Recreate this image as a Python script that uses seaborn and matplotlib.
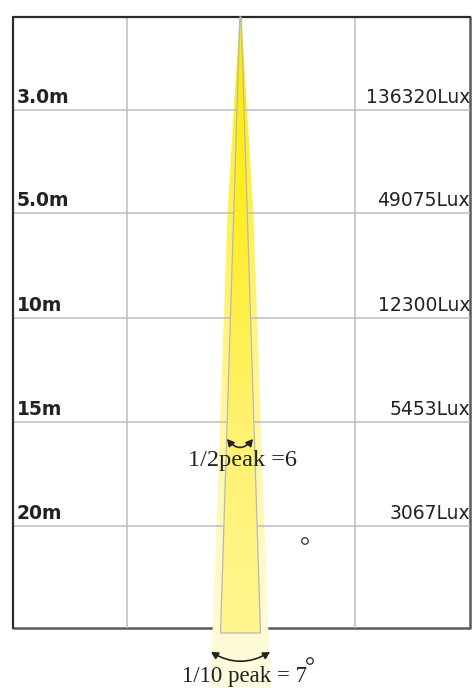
import numpy as np
import matplotlib.pyplot as plt
import seaborn as sns
from matplotlib.patches import Polygon, FancyArrowPatch
from matplotlib.colors import LinearSegmentedColormap

# data
distances = ["3.0m", "5.0m", "10m", "15m", "20m"]
lux = [136320, 49075, 12300, 5453, 3067]
half_peak = 6
tenth_peak = 7

# layout in pixel units (axes span the whole figure)
W, H = 476, 688
frame_l, frame_r, frame_t, frame_b = 13, 470, 17, 628
col_lines = [127, 240, 355]
row_lines = [110, 213, 318, 422, 526]
apex_x = 240.5

sns.set_theme(style="white")

fig = plt.figure(figsize=(W / 100, H / 100), dpi=100)
ax = fig.add_axes([0, 0, 1, 1])
ax.set_xlim(0, W)
ax.set_ylim(H, 0)
ax.axis("off")

grid_kw = dict(color="#bdbdbd", lw=1.1, zorder=3, solid_capstyle="butt")
for x in col_lines:
    ax.plot([x, x], [frame_t, frame_b], **grid_kw)
for y in row_lines:
    ax.plot([frame_l, frame_r], [y, y], **grid_kw)

# frame
ax.plot([frame_l, frame_l, frame_r], [frame_b, frame_t, frame_t], color="#2b2b2b", lw=1.6, zorder=4)
ax.plot([frame_l, frame_r, frame_r], [frame_b, frame_b, frame_t], color="#5a5a5a", lw=1.8, zorder=1)


def gradient_cone(verts, colors, z, edge=None):
    poly = Polygon(verts, closed=True, facecolor="none",
                   edgecolor=edge if edge else "none", lw=0.9, zorder=z + 0.1)
    ax.add_patch(poly)
    xs = [v[0] for v in verts]
    ys = [v[1] for v in verts]
    cmap = LinearSegmentedColormap.from_list("beam", colors)
    grad = np.linspace(0, 1, 256).reshape(-1, 1)
    im = ax.imshow(grad, cmap=cmap, aspect="auto",
                   extent=[min(xs), max(xs), max(ys), min(ys)], zorder=z)
    clip = Polygon(verts, closed=True, transform=ax.transData)
    im.set_clip_path(clip)
    ax.set_xlim(0, W)
    ax.set_ylim(H, 0)


# outer (1/10 peak) beam
outer = [(apex_x - 1, frame_t), (apex_x + 1, frame_t),
         (apex_x + 13, 215), (apex_x + 24, 525), (apex_x + 30, H),
         (apex_x - 30, H), (apex_x - 24, 525), (apex_x - 13, 215)]
gradient_cone(outer, ["#ffee00", "#fff25e", "#fff8b0", "#fffbe0"], 2)

# inner (1/2 peak) beam
inner = [(apex_x - 0.6, frame_t), (apex_x + 0.6, frame_t),
         (apex_x + 20, 633), (apex_x - 20, 633)]
gradient_cone(inner, ["#ffec00", "#ffee2a", "#fff270", "#fff590"], 5, edge="#b8b8b8")

# labels
for i, (d, lx) in enumerate(zip(distances, lux)):
    y = row_lines[i] - 7
    ax.text(17, y, d, fontsize=13.5, fontweight="bold", color="#222222",
            ha="left", va="baseline", zorder=8, family="DejaVu Sans")
    ax.text(470, y, f"{lx}Lux", fontsize=13.5, color="#222222",
            ha="right", va="baseline", zorder=8, family="DejaVu Sans")

# beam angle arrows and captions
arr_kw = dict(arrowstyle="<|-|>,head_length=4,head_width=2.2", color="#222222",
              lw=1.2, zorder=9, shrinkA=0, shrinkB=0)
ax.add_patch(FancyArrowPatch((227, 439), (253, 439),
                             connectionstyle="arc3,rad=0.6", **arr_kw))
ax.add_patch(FancyArrowPatch((211, 652), (270, 652),
                             connectionstyle="arc3,rad=0.3", **arr_kw))

serif = ["Liberation Serif", "DejaVu Serif"]
ax.text(243, 466, f"1/2peak ={half_peak}", fontsize=17.5, color="#222222",
        ha="center", va="baseline", family=serif, zorder=9)
ax.text(182, 682, f"1/10 peak = {tenth_peak}", fontsize=16.5, color="#222222",
        ha="left", va="baseline", family=serif, zorder=9)
ax.scatter([310], [661], s=22, facecolors="none", edgecolors="#222222",
           linewidths=0.9, zorder=9)
ax.scatter([305], [541], s=22, facecolors="none", edgecolors="#333333",
           linewidths=0.9, zorder=9)

fig.savefig("out.png", dpi=100)
